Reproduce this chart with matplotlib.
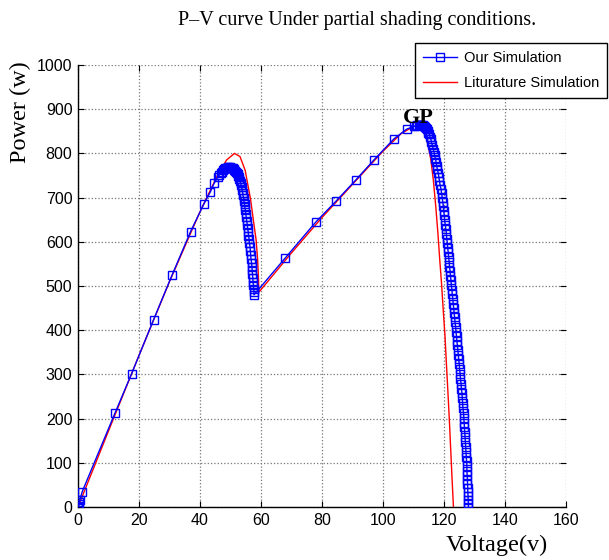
import matplotlib
matplotlib.use("Agg")
import matplotlib.pyplot as plt

# blue curve (our simulation)
sim_v = [0, 0.1, 0.25, 0.4, 0.6, 1.4, 12.1, 17.6, 24.8, 30.8, 36.9, 41.3, 43.4, 44.6,
         45.8, 46.3, 46.8, 47.2, 47.6, 48.0, 48.3, 48.7, 49.0, 49.3, 49.6, 49.9, 50.2,
         50.5, 50.8, 51.1, 51.3, 51.6, 51.8, 52.1, 52.3, 52.5, 52.7, 52.9, 53.1, 53.3,
         53.5, 53.7, 53.8, 54.0, 54.1, 54.3, 54.4, 54.6, 54.7, 54.9, 55.0, 55.2, 55.3,
         55.5, 55.6, 55.8, 55.9, 56.1, 56.2, 56.4, 56.5, 56.6, 56.7, 56.9, 57.0, 57.1,
         57.2, 57.3, 57.4, 57.5, 57.6, 57.7, 57.7,
         67.9, 78.0, 84.6, 91.1, 97.0, 103.6, 107.8, 110.2,
         110.8, 111.3, 111.7, 112.0, 112.4, 112.7, 113.0, 113.3, 113.6, 113.9, 114.2,
         114.4, 114.7, 114.9, 115.2, 115.4, 115.7, 115.9, 116.2, 116.4, 116.7, 116.9,
         117.2, 117.4, 117.6, 117.8, 118.1, 118.3, 118.5, 118.7, 119.0, 119.2, 119.4,
         119.6, 119.8, 119.9, 120.1, 120.2, 120.4, 120.6, 120.8, 120.9, 121.1, 121.2,
         121.4, 121.5, 121.7, 121.8, 122.0, 122.1, 122.3, 122.4, 122.6, 122.7, 122.9,
         123.0, 123.2, 123.3, 123.5, 123.6, 123.8, 123.9, 124.1, 124.2, 124.4, 124.5,
         124.7, 124.8, 125.0, 125.1, 125.3, 125.4, 125.6, 125.7, 125.9, 126.0, 126.1,
         126.2, 126.4, 126.5, 126.6, 126.7, 126.8, 126.9, 127.0, 127.1, 127.2, 127.3,
         127.4, 127.5, 127.5, 127.6, 127.7, 127.7, 127.8, 127.8, 127.9, 127.9, 128.0,
         128.0]
sim_p = [0, 3, 7, 11, 16, 35, 212, 302, 424, 524, 623, 686, 713, 732,
         746, 751, 756, 759, 762, 764, 766, 767, 768, 769, 769, 769, 768,
         767, 766, 764, 763, 761, 759, 756, 753, 750, 746, 742, 738, 733,
         728, 723, 717, 711, 705, 699, 692, 685, 678, 671, 663, 655, 647,
         639, 631, 623, 614, 606, 597, 589, 580, 571, 562, 553, 544, 536,
         527, 519, 510, 502, 494, 487, 480,
         563, 645, 692, 740, 785, 833, 855, 861,
         863, 864, 865, 865, 865, 865, 864, 863, 862, 860, 858,
         855, 851, 847, 843, 838, 832, 825, 818, 811, 804, 796,
         788, 780, 772, 764, 756, 747, 738, 729, 720, 710, 700,
         690, 680, 670, 660, 650, 639, 628, 618, 607, 597, 586,
         576, 565, 555, 544, 534, 523, 513, 502, 492, 481, 471,
         460, 450, 439, 429, 418, 408, 397, 387, 376, 366, 355,
         345, 334, 323, 312, 301, 290, 279, 268, 257, 246, 235,
         224, 213, 202, 191, 180, 169, 158, 147, 136, 125, 114,
         103, 92, 82, 72, 62, 52, 43, 34, 25, 16, 8,
         0]

# red curve (literature simulation)
lit_v = [0, 10, 20, 30, 40, 45.5, 48.7, 51.3, 53.1, 54.8, 55.8, 56.6, 57.5, 58.4,
         58.9, 59.2, 59.3, 70, 80, 90, 100, 106, 110, 112.1, 113.0, 113.8, 114.9,
         115.7, 116.5, 117.3, 118.0, 118.6, 119.2, 119.8, 120.3, 120.9, 121.4, 121.8,
         122.2, 122.6, 123.1]
lit_p = [0, 172, 343, 510, 668, 747, 785, 800, 793, 762, 725, 695, 649, 604,
         559, 514, 486, 575, 655, 730, 805, 845, 861, 864, 858, 845, 815,
         785, 740, 680, 620, 560, 505, 440, 390, 310, 245, 190,
         130, 70, 0]

x_ticks = list(range(0, 161, 20))
y_ticks = list(range(0, 1001, 100))

sans = "Liberation Sans"
serif = "Liberation Serif"

fig = plt.figure(figsize=(6.09, 5.6), dpi=100)
ax = fig.add_axes([78 / 609, 1 - 507 / 560, 488 / 609, 442 / 560])

ax.plot(lit_v, lit_p, color="#ff0000", lw=1.0, zorder=2, label="Liturature Simulation")
ax.plot(sim_v, sim_p, color="#0000ff", lw=1.0, marker="s", markersize=5.4,
        markerfacecolor="none", markeredgecolor="#0000ff", markeredgewidth=1.0,
        zorder=3, label="Our Simulation")

ax.set_xlim(0, 160)
ax.set_ylim(0, 1000)
ax.set_xticks(x_ticks)
ax.set_yticks(y_ticks)
ax.grid(True, color="#777777", linestyle=":", linewidth=0.9)
ax.set_axisbelow(True)
for s in ["top", "right"]:
    ax.spines[s].set_visible(False)
for s in ["left", "bottom"]:
    ax.spines[s].set_linewidth(1.0)
ax.tick_params(direction="in", length=4, top=True, right=True, labelsize=11.5, pad=4)
for lab in ax.get_xticklabels() + ax.get_yticklabels():
    lab.set_fontfamily(sans)

ax.text(111.5, 880, "GP", family=serif, fontweight="bold", fontsize=16,
        ha="center", va="center", zorder=5)

handles, labels = ax.get_legend_handles_labels()
leg = ax.legend(handles[::-1], labels[::-1], loc="upper right",
                bbox_to_anchor=(0.997, 0.923), bbox_transform=fig.transFigure,
                borderaxespad=0, fancybox=False, framealpha=1, edgecolor="black",
                prop={"family": sans, "size": 10.5}, handlelength=2.3,
                handletextpad=0.5, borderpad=0.55, labelspacing=0.75)
leg.get_frame().set_linewidth(1.0)
leg.set_zorder(10)

fig.text(357 / 609, 1 - 20 / 560, "P\u2013V curve Under partial shading conditions.",
         family=serif, fontsize=14.5, ha="center", va="center")
fig.text(20 / 609, 1 - 112 / 560, "Power (w)", family=serif, fontsize=17.5,
         rotation=90, ha="center", va="center")
fig.text(497 / 609, 1 - 545 / 560, "Voltage(v)", family=serif, fontsize=17.5,
         ha="center", va="center")

fig.savefig("out.png", dpi=100)
